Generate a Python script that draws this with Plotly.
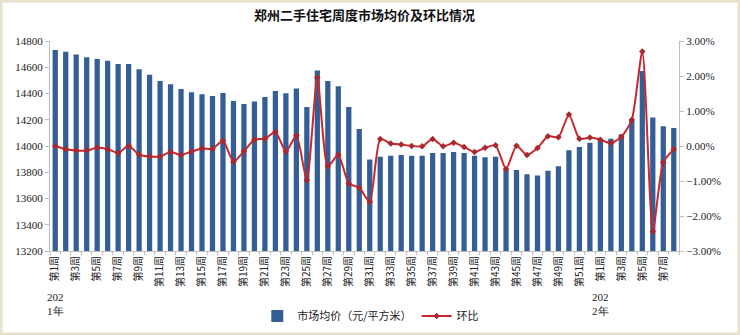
import plotly.graph_objects as go

weeks_2021 = [f"第{i}周" for i in range(1, 53)]
weeks_2022 = [f"第{i}周" for i in range(1, 9)]
week_labels = weeks_2021 + weeks_2022
year_labels = ["202<br>1年", "202<br>2年"]

avg_price = [
    14731, 14719, 14698, 14676, 14663, 14650, 14625, 14625, 14584, 14543,
    14495, 14470, 14434, 14409, 14394, 14381, 14404, 14343, 14320, 14340,
    14373, 14419, 14401, 14439, 14297, 14576, 14495, 14455, 14297, 14129,
    13898, 13919, 13926, 13931, 13926, 13926, 13947, 13947, 13954, 13947,
    13926, 13915, 13919, 13817, 13817, 13784, 13776, 13812, 13845, 13967,
    13992, 14025,
    14046, 14056, 14089, 14198, 14571, 14218, 14150, 14137,
]

mom_pct = [
    0.00, -0.09, -0.13, -0.13, -0.05, -0.09, -0.20, 0.01, -0.25, -0.30,
    -0.30, -0.17, -0.26, -0.16, -0.07, -0.08, 0.15, -0.45, -0.15, 0.18,
    0.21, 0.40, -0.16, 0.30, -0.98, 1.96, -0.58, -0.25, -1.07, -1.19,
    -1.60, 0.20, 0.07, 0.04, 0.00, -0.01, 0.20, -0.01, 0.09, -0.03,
    -0.17, -0.05, 0.02, -0.66, 0.01, -0.26, -0.06, 0.28, 0.25, 0.90,
    0.21, 0.24,
    0.18, 0.08, 0.26, 0.75, 2.70, -2.44, -0.47, -0.09,
]

x_idx = list(range(len(avg_price)))
mom = [v / 100 for v in mom_pct]

tick_pos = [i for i in x_idx if i % 2 == 0]
tick_txt = [week_labels[i] for i in tick_pos]

fig = go.Figure()
fig.add_trace(go.Bar(
    x=x_idx, y=avg_price, name="市场均价（元/平方米）",
    marker=dict(color="#335E96", line=dict(width=0)),
    width=0.5,
))
fig.add_trace(go.Scatter(
    x=x_idx, y=mom, name="环比", yaxis="y2", mode="lines+markers",
    line=dict(color="#C8282E", width=2, shape="spline", smoothing=0.6),
    marker=dict(color="#A8282E", size=5, symbol="diamond"),
))

serif = "Liberation Serif, Times New Roman, serif"
cjk = "Noto Sans CJK SC, sans-serif"

L, R, T, B = 50, 61, 41, 84
W, H = 740, 335
pw, ph = W - L - R, H - T - B

annotations = []
for xi, txt in zip([0, 52], year_labels):
    annotations.append(dict(
        x=xi, y=(T + ph - 289) / ph, xref="x", yref="paper", text=txt,
        showarrow=False, xanchor="center", yanchor="top", align="left",
        font=dict(family=serif, size=11, color="#222"),
    ))

fig.update_layout(
    width=W, height=H, autosize=False,
    margin=dict(l=L, r=R, t=T, b=B, autoexpand=False),
    paper_bgcolor="white", plot_bgcolor="white",
    title=dict(text="<b>郑州二手住宅周度市场均价及环比情况</b>", x=0.5, xref="paper",
               xanchor="center", y=1 - 15 / H, yanchor="middle",
               font=dict(family=cjk, size=13, color="#111")),
    showlegend=True,
    legend=dict(orientation="h", x=0.51, xanchor="center", y=-(316 - T - ph) / ph,
                yanchor="middle", font=dict(family=cjk, size=11, color="#222"),
                bgcolor="rgba(0,0,0,0)", tracegroupgap=0),
    bargap=0.5,
    xaxis=dict(
        range=[-0.5, len(avg_price) - 0.5], tickmode="array", tickvals=tick_pos,
        ticktext=tick_txt, tickangle=-90, ticks="", showline=True, automargin=False,
        linecolor="#BFBFBF", linewidth=1, showgrid=False, zeroline=False,
        tickfont=dict(family=cjk, size=10, color="#222"),
        minor=dict(tickmode="linear", tick0=0.5, dtick=1, ticks="outside",
                   ticklen=3, tickcolor="#BFBFBF", showgrid=False),
    ),
    yaxis=dict(
        range=[13200, 14800], dtick=200, tickformat="d", showgrid=False, zeroline=False,
        showline=True, linecolor="#BFBFBF", ticks="outside", ticklen=4, automargin=False,
        tickcolor="#BFBFBF", tickfont=dict(family=serif, size=11, color="#222"),
    ),
    yaxis2=dict(
        range=[-0.03, 0.03], dtick=0.01, tickformat=".2%", overlaying="y",
        side="right", showgrid=False, zeroline=False, showline=True, automargin=False,
        linecolor="#BFBFBF", ticks="outside", ticklen=4, tickcolor="#BFBFBF",
        tickfont=dict(family=serif, size=11, color="#222"),
    ),
    annotations=annotations,
    shapes=[dict(
        type="rect", xref="paper", yref="paper",
        x0=(1 - L) / pw, x1=(W - 1 - L) / pw,
        y0=(T + ph - (H - 1)) / ph, y1=(T + ph - 1) / ph,
        line=dict(color="#E6E1CC", width=3), fillcolor="rgba(0,0,0,0)", layer="below",
    )],
)

fig.write_html("out.html")
